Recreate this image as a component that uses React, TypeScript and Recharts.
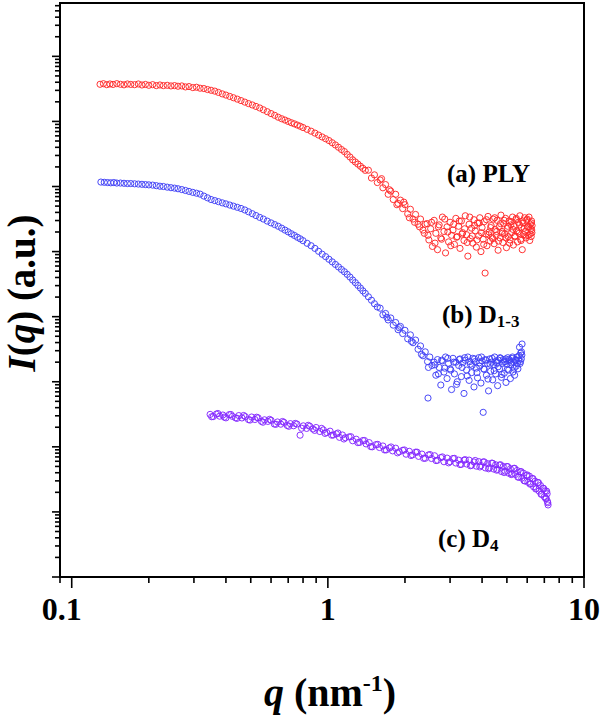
import React from 'react';
import { ScatterChart, Scatter, XAxis, YAxis, ReferenceArea } from 'recharts';

const FONT = '"Liberation Serif", "Times New Roman", Times, serif';

// (a) PLY : [q (nm^-1), I (a.u.)]
const plyPoints: [number, number][] = [
  [0.129, 3.72e7], [0.133, 3.80e7], [0.137, 3.67e7], [0.141, 3.76e7], [0.145, 3.70e7], [0.150, 3.80e7],
  [0.155, 3.72e7], [0.160, 3.65e7], [0.165, 3.76e7], [0.170, 3.70e7], [0.176, 3.67e7], [0.182, 3.76e7],
  [0.188, 3.63e7], [0.194, 3.70e7], [0.200, 3.59e7], [0.207, 3.67e7], [0.214, 3.55e7], [0.221, 3.63e7],
  [0.228, 3.55e7], [0.236, 3.59e7], [0.244, 3.51e7], [0.252, 3.55e7], [0.260, 3.47e7], [0.269, 3.51e7],
  [0.278, 3.39e7], [0.287, 3.43e7], [0.297, 3.31e7], [0.307, 3.35e7], [0.317, 3.24e7], [0.328, 3.20e7],
  [0.339, 3.09e7], [0.350, 3.01e7], [0.362, 2.92e7], [0.374, 2.79e7], [0.387, 2.65e7], [0.400, 2.54e7],
  [0.414, 2.42e7], [0.428, 2.31e7], [0.443, 2.20e7], [0.458, 2.09e7], [0.474, 1.98e7], [0.490, 1.88e7],
  [0.507, 1.79e7], [0.524, 1.70e7], [0.542, 1.61e7], [0.560, 1.51e7], [0.580, 1.41e7], [0.600, 1.32e7],
  [0.620, 1.24e7], [0.640, 1.16e7], [0.660, 1.10e7], [0.680, 1.05e7], [0.700, 1.00e7], [0.720, 9.55e6],
  [0.740, 9.18e6], [0.760, 8.79e6], [0.780, 8.43e6], [0.800, 8.05e6], [0.830, 7.55e6], [0.860, 7.08e6],
  [0.890, 6.62e6], [0.920, 6.17e6], [0.950, 5.77e6], [0.980, 5.42e6], [1.01, 5.08e6], [1.04, 4.70e6],
  [1.07, 4.35e6], [1.10, 4.01e6], [1.13, 3.70e6], [1.16, 3.44e6], [1.19, 3.11e6], [1.22, 2.84e6],
  [1.25, 2.57e6], [1.28, 2.38e6], [1.31, 2.21e6], [1.34, 2.05e6], [1.37, 1.90e6], [1.40, 1.77e6],
  [1.44, 1.78e6], [1.48, 1.35e6], [1.52, 1.51e6], [1.56, 1.15e6], [1.60, 1.26e6], [1.62, 1.32e6],
  [1.64, 9.55e5], [1.68, 1.07e6], [1.72, 7.59e5], [1.74, 8.91e5], [1.76, 8.51e5], [1.80, 6.31e5],
  [1.84, 7.59e5], [1.86, 5.25e5], [1.88, 5.50e5], [1.92, 6.17e5], [1.96, 4.57e5], [1.98, 5.75e5],
  [2.00, 5.25e5], [2.05, 3.80e5], [2.08, 3.31e5], [2.10, 4.47e5], [2.15, 3.16e5], [2.18, 2.82e5],
  [2.20, 3.72e5], [2.25, 2.63e5], [2.28, 2.40e5], [2.30, 3.16e5], [2.35, 2.14e5], [2.38, 1.91e5],
  [2.40, 2.63e5],
  [2.44, 2.69e5], [2.48, 1.51e5], [2.52, 2.24e5], [2.56, 1.20e5], [2.60, 3.02e5], [2.64, 1.91e5],
  [2.68, 1.07e5], [2.72, 2.57e5], [2.76, 1.62e5], [2.80, 3.39e5], [2.84, 2.04e5], [2.88, 9.55e4],
  [2.92, 2.40e5], [2.96, 1.41e5], [3.00, 2.82e5], [3.04, 1.78e5], [3.08, 2.14e5], [3.12, 1.29e5],
  [3.16, 3.24e5], [3.20, 1.70e5], [3.24, 2.45e5], [3.28, 1.12e5], [3.32, 2.95e5], [3.36, 1.95e5],
  [3.40, 1.48e5], [3.44, 3.55e5], [3.48, 1.82e5], [3.52, 8.51e4], [3.56, 2.63e5], [3.60, 1.58e5],
  [3.64, 2.29e5], [3.68, 1.35e5], [3.72, 3.09e5], [3.76, 2.09e5], [3.80, 1.17e5], [3.84, 2.75e5],
  [3.88, 1.74e5], [3.92, 3.31e5], [3.96, 1.00e5], [4.00, 2.34e5], [4.04, 1.55e5], [4.08, 2.88e5],
  [4.11, 4.68e4], [4.14, 1.86e5], [4.18, 1.23e5], [4.22, 3.47e5], [4.26, 2.00e5], [4.30, 1.45e5],
  [4.34, 2.51e5], [4.38, 1.66e5], [4.42, 3.16e5], [4.46, 1.32e5], [4.50, 2.19e5], [4.54, 1.78e5],
  [4.58, 3.02e5], [4.62, 1.05e5], [4.66, 2.40e5], [4.70, 1.62e5], [4.74, 3.63e5], [4.78, 2.04e5],
  [4.82, 1.38e5], [4.86, 2.69e5], [4.90, 1.86e5], [4.94, 3.24e5], [4.98, 1.15e5], [5.02, 2.29e5],
  [5.06, 1.70e5], [5.10, 2.95e5], [5.14, 1.51e5], [5.18, 2.57e5], [5.22, 1.95e5], [5.26, 3.39e5],
  [5.30, 1.26e5], [5.34, 2.45e5], [5.38, 1.74e5], [5.42, 3.09e5], [5.46, 2.09e5], [5.50, 1.41e5],
  [5.54, 2.82e5], [5.58, 1.91e5], [5.62, 3.55e5], [5.66, 1.55e5], [5.70, 2.34e5], [5.74, 1.07e5],
  [5.78, 2.75e5], [5.82, 1.82e5], [5.86, 3.31e5], [5.90, 2.04e5], [5.94, 1.62e5], [5.98, 3.02e5],
  [6.02, 2.40e5], [6.06, 1.78e5], [6.10, 3.39e5], [6.14, 1.48e5], [6.17, 2.63e5], [6.20, 2.24e5],
  [6.22, 1.70e5], [6.24, 2.95e5], [6.26, 1.95e5], [6.27, 2.51e5],
  [2.46, 1.78e5], [2.54, 2.82e5], [2.62, 1.35e5], [2.70, 2.40e5], [2.78, 1.55e5], [2.86, 3.16e5],
  [2.94, 2.00e5], [3.02, 1.23e5], [3.10, 2.63e5], [3.18, 1.66e5], [3.26, 2.95e5], [3.34, 1.86e5],
  [3.42, 2.24e5], [3.50, 1.38e5], [3.58, 3.39e5], [3.66, 1.74e5], [3.74, 2.51e5], [3.82, 1.51e5],
  [3.90, 2.75e5], [3.98, 1.95e5], [4.06, 1.29e5], [4.16, 3.09e5], [4.24, 1.82e5], [4.32, 2.34e5],
  [4.40, 1.58e5], [4.48, 3.31e5], [4.56, 2.04e5], [4.64, 1.45e5], [4.72, 2.69e5], [4.80, 1.91e5],
  [4.88, 3.02e5], [4.96, 1.62e5], [5.04, 2.45e5], [5.12, 1.35e5], [5.20, 2.88e5], [5.28, 2.19e5],
  [5.36, 1.70e5], [5.44, 3.24e5], [5.52, 2.00e5], [5.60, 2.57e5], [5.68, 1.48e5], [5.76, 2.95e5],
  [5.84, 2.29e5], [5.92, 1.74e5], [6.00, 3.16e5], [6.08, 2.40e5], [6.16, 1.86e5], [6.23, 2.75e5],
  [6.25, 2.14e5],
];

// (b) D1-3
const d13Points: [number, number][] = [
  [0.130, 1.17e6], [0.134, 1.16e6], [0.138, 1.15e6], [0.142, 1.14e6], [0.146, 1.15e6], [0.150, 1.13e6],
  [0.155, 1.13e6], [0.160, 1.12e6], [0.165, 1.11e6], [0.170, 1.11e6], [0.176, 1.10e6], [0.182, 1.09e6],
  [0.188, 1.08e6], [0.194, 1.07e6], [0.200, 1.06e6], [0.207, 1.05e6], [0.214, 1.03e6], [0.221, 1.01e6],
  [0.228, 1.00e6], [0.236, 9.77e5], [0.244, 9.59e5], [0.252, 9.44e5], [0.260, 9.23e5], [0.269, 8.97e5],
  [0.278, 8.69e5], [0.287, 8.41e5], [0.297, 8.13e5], [0.307, 7.89e5], [0.317, 7.64e5], [0.328, 7.13e5],
  [0.339, 6.70e5], [0.350, 6.31e5], [0.362, 6.07e5], [0.374, 5.85e5], [0.387, 5.61e5], [0.400, 5.41e5],
  [0.414, 5.19e5], [0.428, 4.99e5], [0.443, 4.79e5], [0.458, 4.60e5], [0.474, 4.36e5], [0.490, 4.09e5],
  [0.507, 3.82e5], [0.524, 3.58e5], [0.542, 3.35e5], [0.560, 3.16e5], [0.580, 2.94e5], [0.600, 2.76e5],
  [0.620, 2.60e5], [0.640, 2.45e5], [0.660, 2.29e5], [0.680, 2.14e5], [0.700, 2.01e5], [0.720, 1.88e5],
  [0.740, 1.77e5], [0.760, 1.66e5], [0.780, 1.57e5], [0.800, 1.47e5], [0.830, 1.34e5], [0.860, 1.23e5],
  [0.890, 1.12e5], [0.920, 1.01e5], [0.950, 9.12e4], [0.980, 8.36e4], [1.01, 7.62e4], [1.04, 6.95e4],
  [1.07, 6.35e4], [1.10, 5.81e4], [1.13, 5.31e4], [1.16, 4.90e4], [1.19, 4.47e4], [1.22, 4.06e4],
  [1.25, 3.66e4], [1.28, 3.33e4], [1.31, 3.02e4], [1.34, 2.75e4], [1.37, 2.49e4], [1.40, 2.28e4],
  [1.44, 2.02e4], [1.48, 1.79e4], [1.52, 1.58e4], [1.56, 1.41e4],
  [1.60, 1.35e4], [1.64, 1.07e4], [1.68, 1.12e4], [1.70, 9.77e3], [1.72, 8.91e3], [1.76, 9.55e3],
  [1.80, 7.41e3], [1.84, 8.13e3], [1.88, 6.31e3], [1.90, 6.76e3], [1.92, 7.08e3], [1.96, 5.50e3],
  [2.00, 6.17e3], [2.05, 4.57e3], [2.10, 5.25e3], [2.12, 4.17e3], [2.15, 3.98e3], [2.20, 4.37e3],
  [2.25, 3.16e3], [2.30, 3.55e3], [2.32, 2.63e3], [2.35, 2.51e3], [2.40, 2.88e3], [2.45, 2.04e3],
  [2.46, 5.62e2], [2.47, 1.66e3], [2.50, 2.40e3], [2.55, 1.78e3],
  [2.60, 2.00e3], [2.64, 1.26e3], [2.68, 2.19e3], [2.72, 1.66e3], [2.76, 8.91e2], [2.80, 2.09e3],
  [2.84, 1.41e3], [2.88, 2.40e3], [2.92, 1.12e3], [2.96, 1.91e3], [3.00, 1.58e3], [3.04, 7.59e2],
  [3.08, 2.29e3], [3.12, 1.32e3], [3.16, 2.00e3], [3.20, 1.00e3], [3.24, 1.78e3], [3.28, 2.24e3],
  [3.32, 1.20e3], [3.36, 1.95e3], [3.40, 6.61e2], [3.44, 2.14e3], [3.48, 1.51e3], [3.52, 2.40e3],
  [3.56, 1.05e3], [3.60, 1.86e3], [3.64, 1.38e3], [3.68, 2.29e3], [3.72, 8.32e2], [3.76, 2.04e3],
  [3.80, 1.62e3], [3.84, 1.15e3], [3.88, 2.34e3], [3.92, 1.74e3], [3.96, 9.55e2], [4.00, 2.09e3],
  [4.04, 3.39e2], [4.08, 1.55e3], [4.12, 2.19e3], [4.16, 1.26e3], [4.20, 1.91e3], [4.24, 7.24e2],
  [4.28, 2.24e3], [4.32, 1.45e3], [4.36, 2.00e3], [4.40, 1.07e3], [4.44, 1.82e3], [4.48, 2.40e3],
  [4.52, 1.32e3], [4.56, 1.95e3], [4.60, 8.71e2], [4.64, 2.14e3], [4.68, 1.58e3], [4.72, 2.29e3],
  [4.76, 1.17e3], [4.80, 1.91e3], [4.84, 2.19e3], [4.88, 1.35e3], [4.92, 2.04e3], [4.96, 9.77e2],
  [5.00, 1.86e3], [5.04, 2.34e3], [5.08, 1.51e3], [5.12, 2.09e3], [5.16, 1.12e3], [5.20, 1.95e3],
  [5.24, 2.29e3], [5.28, 1.41e3], [5.32, 2.00e3], [5.36, 1.26e3], [5.40, 2.19e3], [5.44, 1.74e3],
  [5.48, 2.40e3], [5.52, 1.58e3], [5.56, 2.14e3], [5.60, 3.39e3], [5.63, 1.91e3], [5.66, 2.75e3],
  [5.69, 2.24e3], [5.72, 2.57e3], [5.73, 3.80e3],
  [2.62, 1.82e3], [2.70, 1.32e3], [2.78, 2.14e3], [2.86, 1.62e3], [2.94, 2.29e3], [3.02, 1.51e3],
  [3.10, 2.00e3], [3.18, 9.12e2], [3.26, 2.19e3], [3.34, 1.66e3], [3.42, 2.34e3], [3.50, 1.23e3],
  [3.58, 2.04e3], [3.66, 1.78e3], [3.74, 2.24e3], [3.82, 1.38e3], [3.90, 1.95e3], [3.98, 2.40e3],
  [4.06, 1.58e3], [4.14, 2.14e3], [4.22, 1.10e3], [4.30, 1.86e3], [4.38, 2.29e3], [4.46, 1.48e3],
  [4.54, 2.09e3], [4.62, 1.70e3], [4.70, 2.34e3], [4.78, 1.29e3], [4.86, 2.00e3], [4.94, 2.24e3],
  [5.02, 1.55e3], [5.10, 2.19e3], [5.18, 1.82e3], [5.26, 2.40e3], [5.34, 1.62e3], [5.42, 2.14e3],
  [5.50, 1.91e3], [5.58, 2.51e3], [5.65, 2.04e3], [5.70, 2.88e3],
];

// (c) D4
const d4Points: [number, number][] = [
  [0.347, 315], [0.357, 292], [0.367, 318], [0.378, 296], [0.389, 308], [0.400, 279], [0.412, 312],
  [0.424, 294], [0.436, 279], [0.449, 302], [0.462, 278], [0.476, 291], [0.490, 262], [0.504, 287],
  [0.519, 263], [0.534, 279], [0.550, 247], [0.566, 260], [0.583, 246], [0.600, 256], [0.618, 224],
  [0.636, 241], [0.655, 223], [0.674, 238], [0.694, 213], [0.714, 227], [0.735, 211], [0.757, 224],
  [0.779, 151], [0.802, 210], [0.826, 192], [0.850, 207], [0.875, 188], [0.900, 198], [0.930, 172],
  [0.960, 182], [0.990, 166], [1.02, 174], [1.05, 152], [1.08, 158], [1.11, 140], [1.14, 152],
  [1.17, 138], [1.21, 142], [1.25, 124], [1.29, 131], [1.33, 117], [1.37, 125], [1.41, 111],
  [1.45, 116], [1.49, 100], [1.54, 108], [1.59, 97.7], [1.64, 103], [1.69, 89.7], [1.74, 96.2],
  [1.79, 86.7], [1.84, 95.3], [1.90, 83.8], [1.96, 88.5], [2.02, 77.1], [2.08, 85.3], [2.14, 75.3],
  [2.20, 82.8], [2.26, 71.4], [2.33, 77.4], [2.40, 66.7], [2.47, 75.0], [2.54, 66.2], [2.61, 72.9],
  [2.68, 62.2], [2.76, 68.4], [2.84, 59.0], [2.92, 67.1], [3.00, 59.0], [3.08, 66.2], [3.16, 56.4],
  [3.24, 62.4], [3.32, 53.8], [3.40, 62.5], [3.48, 54.5], [3.56, 62.5], [3.64, 52.1], [3.72, 58.5],
  [3.80, 50.5], [3.88, 59.3], [3.96, 51.6], [4.04, 58.6], [4.12, 47.4], [4.20, 55.1], [4.28, 47.9],
  [4.36, 56.2], [4.44, 45.6], [4.52, 53.0], [4.60, 44.9], [4.68, 52.4], [4.76, 41.8], [4.84, 49.9],
  [4.92, 42.2], [5.00, 49.9], [5.08, 39.4], [5.16, 46.0], [5.24, 38.5], [5.32, 46.6], [5.40, 37.7],
  [5.48, 43.3], [5.56, 34.2], [5.64, 41.3], [5.72, 33.0], [5.80, 39.4], [5.88, 30.0], [5.96, 36.3],
  [6.04, 28.6], [6.12, 35.4], [6.20, 27.3], [6.28, 32.5], [6.36, 24.3], [6.44, 29.6], [6.52, 23.0],
  [6.60, 28.3], [6.68, 20.9], [6.76, 25.5], [6.84, 18.7], [6.92, 23.1], [7.00, 17.1], [7.06, 21.1],
  [7.12, 16.2], [7.18, 19.0], [7.22, 13.8], [7.24, 12.8],
  [0.352, 290], [0.372, 325], [0.394, 286], [0.418, 314], [0.442, 274], [0.469, 303], [0.497, 258],
  [0.527, 285], [0.558, 239], [0.592, 264], [0.627, 222], [0.665, 245], [0.704, 207], [0.746, 229],
  [0.790, 193], [0.838, 214], [0.888, 179], [0.945, 192], [0.975, 161],
  [1.035, 151], [1.095, 163], [1.155, 132], [1.23, 143], [1.31, 116], [1.39, 125], [1.47, 101],
  [1.565, 109], [1.665, 89.7], [1.765, 99.5], [1.87, 80.9], [1.99, 89.5], [2.11, 73.6], [2.23, 82.8],
  [2.365, 66.7], [2.505, 76.0], [2.645, 61.5], [2.80, 70.0], [2.96, 56.8], [3.12, 66.5], [3.28, 53.5],
  [3.44, 63.5], [3.60, 51.2], [3.76, 61.7], [3.92, 49.1], [4.08, 58.7], [4.24, 46.0], [4.40, 55.8],
  [4.56, 43.8], [4.72, 53.1], [4.88, 40.3], [5.04, 49.5], [5.20, 37.5], [5.36, 46.8], [5.52, 34.3],
  [5.68, 41.7], [5.84, 30.1], [6.00, 37.0], [6.16, 26.7], [6.32, 32.5], [6.48, 22.5], [6.64, 28.2],
  [6.80, 18.7], [6.96, 22.9], [7.09, 16.0], [7.15, 20.8], [7.20, 14.5],
];

const xTicks = [0.09, 0.1, 0.2, 0.3, 0.4, 0.5, 0.6, 0.7, 0.8, 0.9, 1, 2, 3, 4, 5, 6, 7, 8, 9, 10];
const xLabelled = [0.1, 1, 10];
const xTickText = ['0.1', '1', '10'];

const yTicks = [
  1, 2, 3, 4, 5, 6, 7, 8, 9,
  1e1, 2e1, 3e1, 4e1, 5e1, 6e1, 7e1, 8e1, 9e1,
  1e2, 2e2, 3e2, 4e2, 5e2, 6e2, 7e2, 8e2, 9e2,
  1e3, 2e3, 3e3, 4e3, 5e3, 6e3, 7e3, 8e3, 9e3,
  1e4, 2e4, 3e4, 4e4, 5e4, 6e4, 7e4, 8e4, 9e4,
  1e5, 2e5, 3e5, 4e5, 5e5, 6e5, 7e5, 8e5, 9e5,
  1e6, 2e6, 3e6, 4e6, 5e6, 6e6, 7e6, 8e6, 9e6,
  1e7, 2e7, 3e7, 4e7, 5e7, 6e7, 7e7, 8e7, 9e7,
  1e8, 2e8, 3e8, 4e8, 5e8, 6e8,
];
const yMajor = [1, 1e1, 1e2, 1e3, 1e4, 1e5, 1e6, 1e7, 1e8];

const X_DOMAIN: [number, number] = [0.09, 10];
const Y_DOMAIN: [number, number] = [1, 6.6e8];

const toRows = (pts: [number, number][]) => pts.map(([q, I]) => ({ q, I }));

const ring = (color: string) => (props: any) => {
  if (props.cx == null || props.cy == null) return <g />;
  return <circle cx={props.cx} cy={props.cy} r={3.1} fill="none" stroke={color} strokeWidth={0.95} />;
};

function XTick(props: any) {
  const { x, y, payload } = props;
  const idx = xLabelled.indexOf(payload.value);
  const major = idx >= 0;
  return (
    <g>
      <line x1={x} x2={x} y1={y} y2={y + (major ? 11 : 6)} stroke="#000" strokeWidth={1.6} />
      {major && (
        <text
          x={x + (idx === 0 ? -10 : 0)}
          y={y + 43}
          textAnchor="middle"
          fontFamily={FONT}
          fontWeight="bold"
          fontSize={32}
          fill="#000"
        >
          {xTickText[idx]}
        </text>
      )}
    </g>
  );
}

function YTick(props: any) {
  const { x, y, payload } = props;
  const major = yMajor.indexOf(payload.value) >= 0;
  return <line x1={x} x2={x - (major ? 8 : 5)} y1={y} y2={y} stroke="#000" strokeWidth={1.6} />;
}

export default function App() {
  return (
    <div style={{ position: 'absolute', left: 0, top: 0, width: 600, height: 717, background: '#fff' }}>
      <ScatterChart width={600} height={717} margin={{ top: 3, right: 16, bottom: 139, left: 59 }}>
        <XAxis
          dataKey="q"
          type="number"
          scale="log"
          domain={X_DOMAIN}
          allowDataOverflow
          ticks={xTicks}
          interval={0}
          tick={<XTick />}
          tickLine={false}
          tickSize={0}
          tickMargin={0}
          axisLine={false}
          height={1}
        />
        <YAxis
          dataKey="I"
          type="number"
          scale="log"
          domain={Y_DOMAIN}
          allowDataOverflow
          ticks={yTicks}
          interval={0}
          tick={<YTick />}
          tickLine={false}
          tickSize={0}
          tickMargin={0}
          axisLine={false}
          width={1}
        />
        <Scatter data={toRows(plyPoints)} shape={ring('#ff2a2a')} isAnimationActive={false} />
        <Scatter data={toRows(d13Points)} shape={ring('#4040f5')} isAnimationActive={false} />
        <Scatter data={toRows(d4Points)} shape={ring('#8428ff')} isAnimationActive={false} />
        <ReferenceArea
          x1={X_DOMAIN[0]}
          x2={X_DOMAIN[1]}
          y1={Y_DOMAIN[0]}
          y2={Y_DOMAIN[1]}
          fill="none"
          fillOpacity={0}
          stroke="#000"
          strokeWidth={2}
          ifOverflow="visible"
        />
      </ScatterChart>
      <svg
        width={600}
        height={717}
        style={{ position: 'absolute', left: 0, top: 0, pointerEvents: 'none' }}
        fontFamily={FONT}
        fontWeight="bold"
      >
        <text transform="translate(35, 293) rotate(-90)" textAnchor="middle" fontSize={39} fill="#000">
          <tspan fontStyle="italic">I</tspan>
          <tspan>(</tspan>
          <tspan fontStyle="italic">q</tspan>
          <tspan>) (a.u.)</tspan>
        </text>
        <text x={330} y={706} textAnchor="middle" fontSize={40} fill="#000">
          <tspan fontStyle="italic">q</tspan>
          <tspan> (nm</tspan>
          <tspan fontSize={24} dy={-15}>-1</tspan>
          <tspan dy={15}>)</tspan>
        </text>
        <text x={447} y={182} fontSize={25} fill="#000">(a) PLY</text>
        <text x={442} y={323} fontSize={25} fill="#000">
          <tspan>(b) D</tspan>
          <tspan fontSize={17} dy={4}>1-3</tspan>
        </text>
        <text x={438} y={547} fontSize={25} fill="#000">
          <tspan>(c) D</tspan>
          <tspan fontSize={17} dy={4}>4</tspan>
        </text>
      </svg>
    </div>
  );
}
